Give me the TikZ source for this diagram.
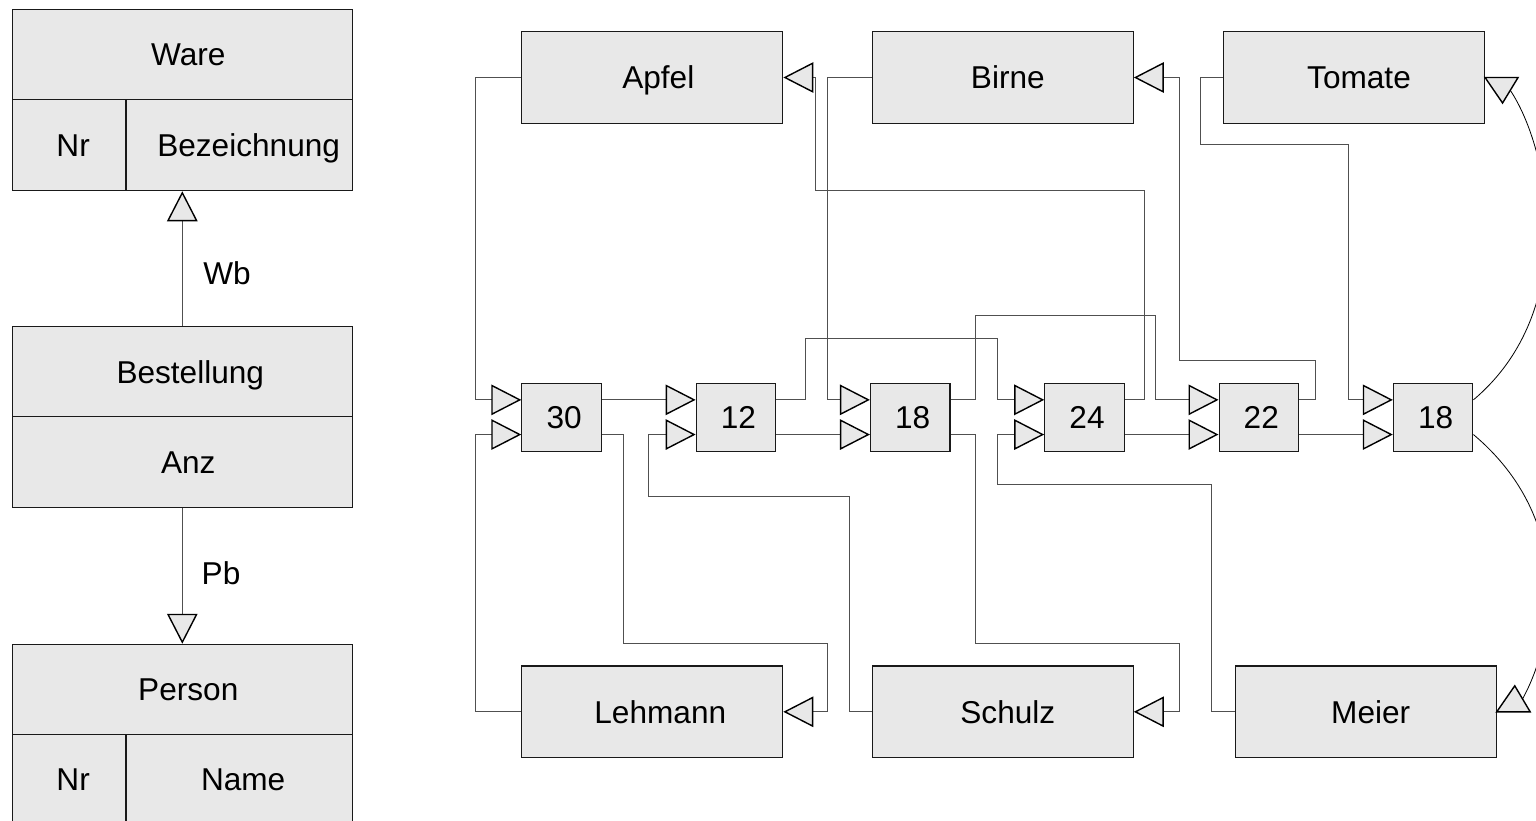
\documentclass[tikz,border=0pt]{standalone}
\usepackage{fontspec}
\setmainfont{Liberation Sans}
\usetikzlibrary{arrows.meta,calc}
\definecolor{boxgray}{HTML}{E8E8E8}
\definecolor{linegray}{HTML}{505050}
\begin{document}
\begin{tikzpicture}[x=1pt,y=-1pt,
  lbl/.style={font=\fontsize{31.6}{37}\selectfont, text height=22.6pt, text depth=0pt},
  ent/.style={lbl, draw=black!90, fill=boxgray, line width=1.1pt, inner sep=0pt, anchor=center},
  bigbox/.style={ent, minimum width=261pt, minimum height=91.6pt},
  smallbox/.style={ent, minimum width=79.5pt, minimum height=68.3pt},
  conn/.style={draw=linegray, line width=1pt},
  tri/.style={conn, -{Triangle[length=30pt,width=30.5pt,fill=boxgray,color=black,line width=1.4pt]}},
  tribox/.style={draw=black, line width=1.4pt, fill=boxgray, line join=miter}
]
\useasboundingbox (0,0) rectangle (1536,821);
\clip (0,0) rectangle (1536,821);

% ---------- left schema ----------
\node[ent, minimum width=340pt, minimum height=90.4pt] (ware) at (182.3,54.5) {\hspace*{12pt}Ware};
\node[ent, minimum width=113.7pt, minimum height=91pt] (wnr) at (69.15,145.2) {\hspace*{8pt}Nr};
\node[ent, minimum width=226.3pt, minimum height=91pt] (wbez) at (239.15,145.2) {\hspace*{19pt}Bezeichnung};

\node[ent, minimum width=340pt, minimum height=90pt] (best) at (182.3,371.7) {\hspace*{16pt}Bestellung};
\node[ent, minimum width=340pt, minimum height=91pt] (anz) at (182.3,462.2) {\hspace*{12pt}Anz};

\node[ent, minimum width=340pt, minimum height=90pt] (person) at (182.3,689.3) {\hspace*{12pt}Person};
\node[ent, minimum width=113.7pt, minimum height=90pt] (pnr) at (69.15,779.3) {\hspace*{8pt}Nr};
\node[ent, minimum width=226.3pt, minimum height=90pt] (pname) at (239.15,779.3) {\hspace*{8pt}Name};

\node[lbl] (wb) at (227,273) {Wb};
\node[lbl] (pb) at (221,573) {Pb};

\draw[tri] (best.north) -- (best.north |- wbez.south);
\draw[tri] (anz.south) -- (anz.south |- person.north);

% ---------- right instance diagram ----------
\node[bigbox] (apfel) at (652.3,77.5) {\hspace*{12pt}Apfel};
\node[bigbox] (birne) at (1002.8,77.5) {\hspace*{10pt}Birne};
\node[bigbox] (tomate) at (1354,77.5) {\hspace*{10pt}Tomate};
\node[bigbox] (lehmann) at (652.3,711.8) {\hspace*{16pt}Lehmann};
\node[bigbox] (schulz) at (1002.8,711.8) {\hspace*{10pt}Schulz};
\node[bigbox] (meier) at (1365.7,711.8) {\hspace*{10pt}Meier};

\node[smallbox] (n30) at (561.6,417.2) {\hspace*{5pt}30};
\node[smallbox] (n12) at (735.9,417.2) {\hspace*{5pt}12};
\node[smallbox] (n18a) at (910.2,417.2) {\hspace*{5pt}18};
\node[smallbox] (n24) at (1084.5,417.2) {\hspace*{5pt}24};
\node[smallbox] (n22) at (1258.8,417.2) {\hspace*{5pt}22};
\node[smallbox] (n18b) at (1433.1,417.2) {\hspace*{5pt}18};

\foreach \n in {n30,n12,n18a,n24,n22,n18b}{
  \coordinate (\n-iu) at ($(\n.north west)!0.25!(\n.south west)$);
  \coordinate (\n-il) at ($(\n.north west)!0.75!(\n.south west)$);
  \coordinate (\n-ou) at ($(\n.north east)!0.25!(\n.south east)$);
  \coordinate (\n-ol) at ($(\n.north east)!0.75!(\n.south east)$);
}

\draw[tri] (apfel.west) -- ++(-46,0) |- (n30-iu);
\draw[tri] (lehmann.west) -- ++(-46,0) |- (n30-il);
\draw[tri] (n30-ou) -- (n12-iu);
\draw[tri] (n30-ol) -- ++(21.4,0) |- (827.4,643.3) |- (lehmann.east);
\draw[tri] (n12-ou) -- ++(29.2,0) |- (997.2,338.3) |- (n24-iu);
\draw[tri] (n12-ol) -- (n18a-il);
\draw[tri] (schulz.west) -- ++(-22,0) |- (648.7,496.7) |- (n12-il);
\draw[tri] (birne.west) -- ++(-44.4,0) |- (n18a-iu);
\draw[tri] (n24-ou) -- ++(19.8,0) |- (815.7,190.7) |- (apfel.east);
\draw[tri] (n18a-ou) -- ++(24.7,0) |- (1155.4,315) |- (n22-iu);
\draw[tri] (n18a-ol) -- ++(24.7,0) |- (1179,643.3) |- (schulz.east);
\draw[tri] (meier.west) -- ++(-23.5,0) |- (997.7,484.3) |- (n24-il);
\draw[tri] (n24-ol) -- (n22-il);
\draw[tri] (n22-ou) -- ++(16,0) |- (1179,360.7) |- (birne.east);
\draw[tri] (n22-ol) -- (n18b-il);
\draw[tri] (tomate.west) -- ++(-22.3,0) |- (1348.6,145) |- (n18b-iu);

% curved links with attached triangles
\draw[tribox] (tomate.east) -- ++(33,0) -- ++(-15.5,25.5) -- cycle;
\coordinate (tomin) at ($(tomate.east)+(25.2,12.8)$);
\draw[conn, draw=black, line width=0.8pt] (n18b-ou) .. controls (1580,310) and (1550,150) .. (tomin);

\draw[tribox] (meier.east) -- ++(33.4,0) -- ++(-15.4,-26) -- cycle;
\coordinate (meiin) at ($(meier.east)+(25.8,-12.9)$);
\draw[conn, draw=black, line width=0.8pt] (n18b-ol) .. controls (1575,520) and (1555,640) .. (meiin);
\end{tikzpicture}
\end{document}
